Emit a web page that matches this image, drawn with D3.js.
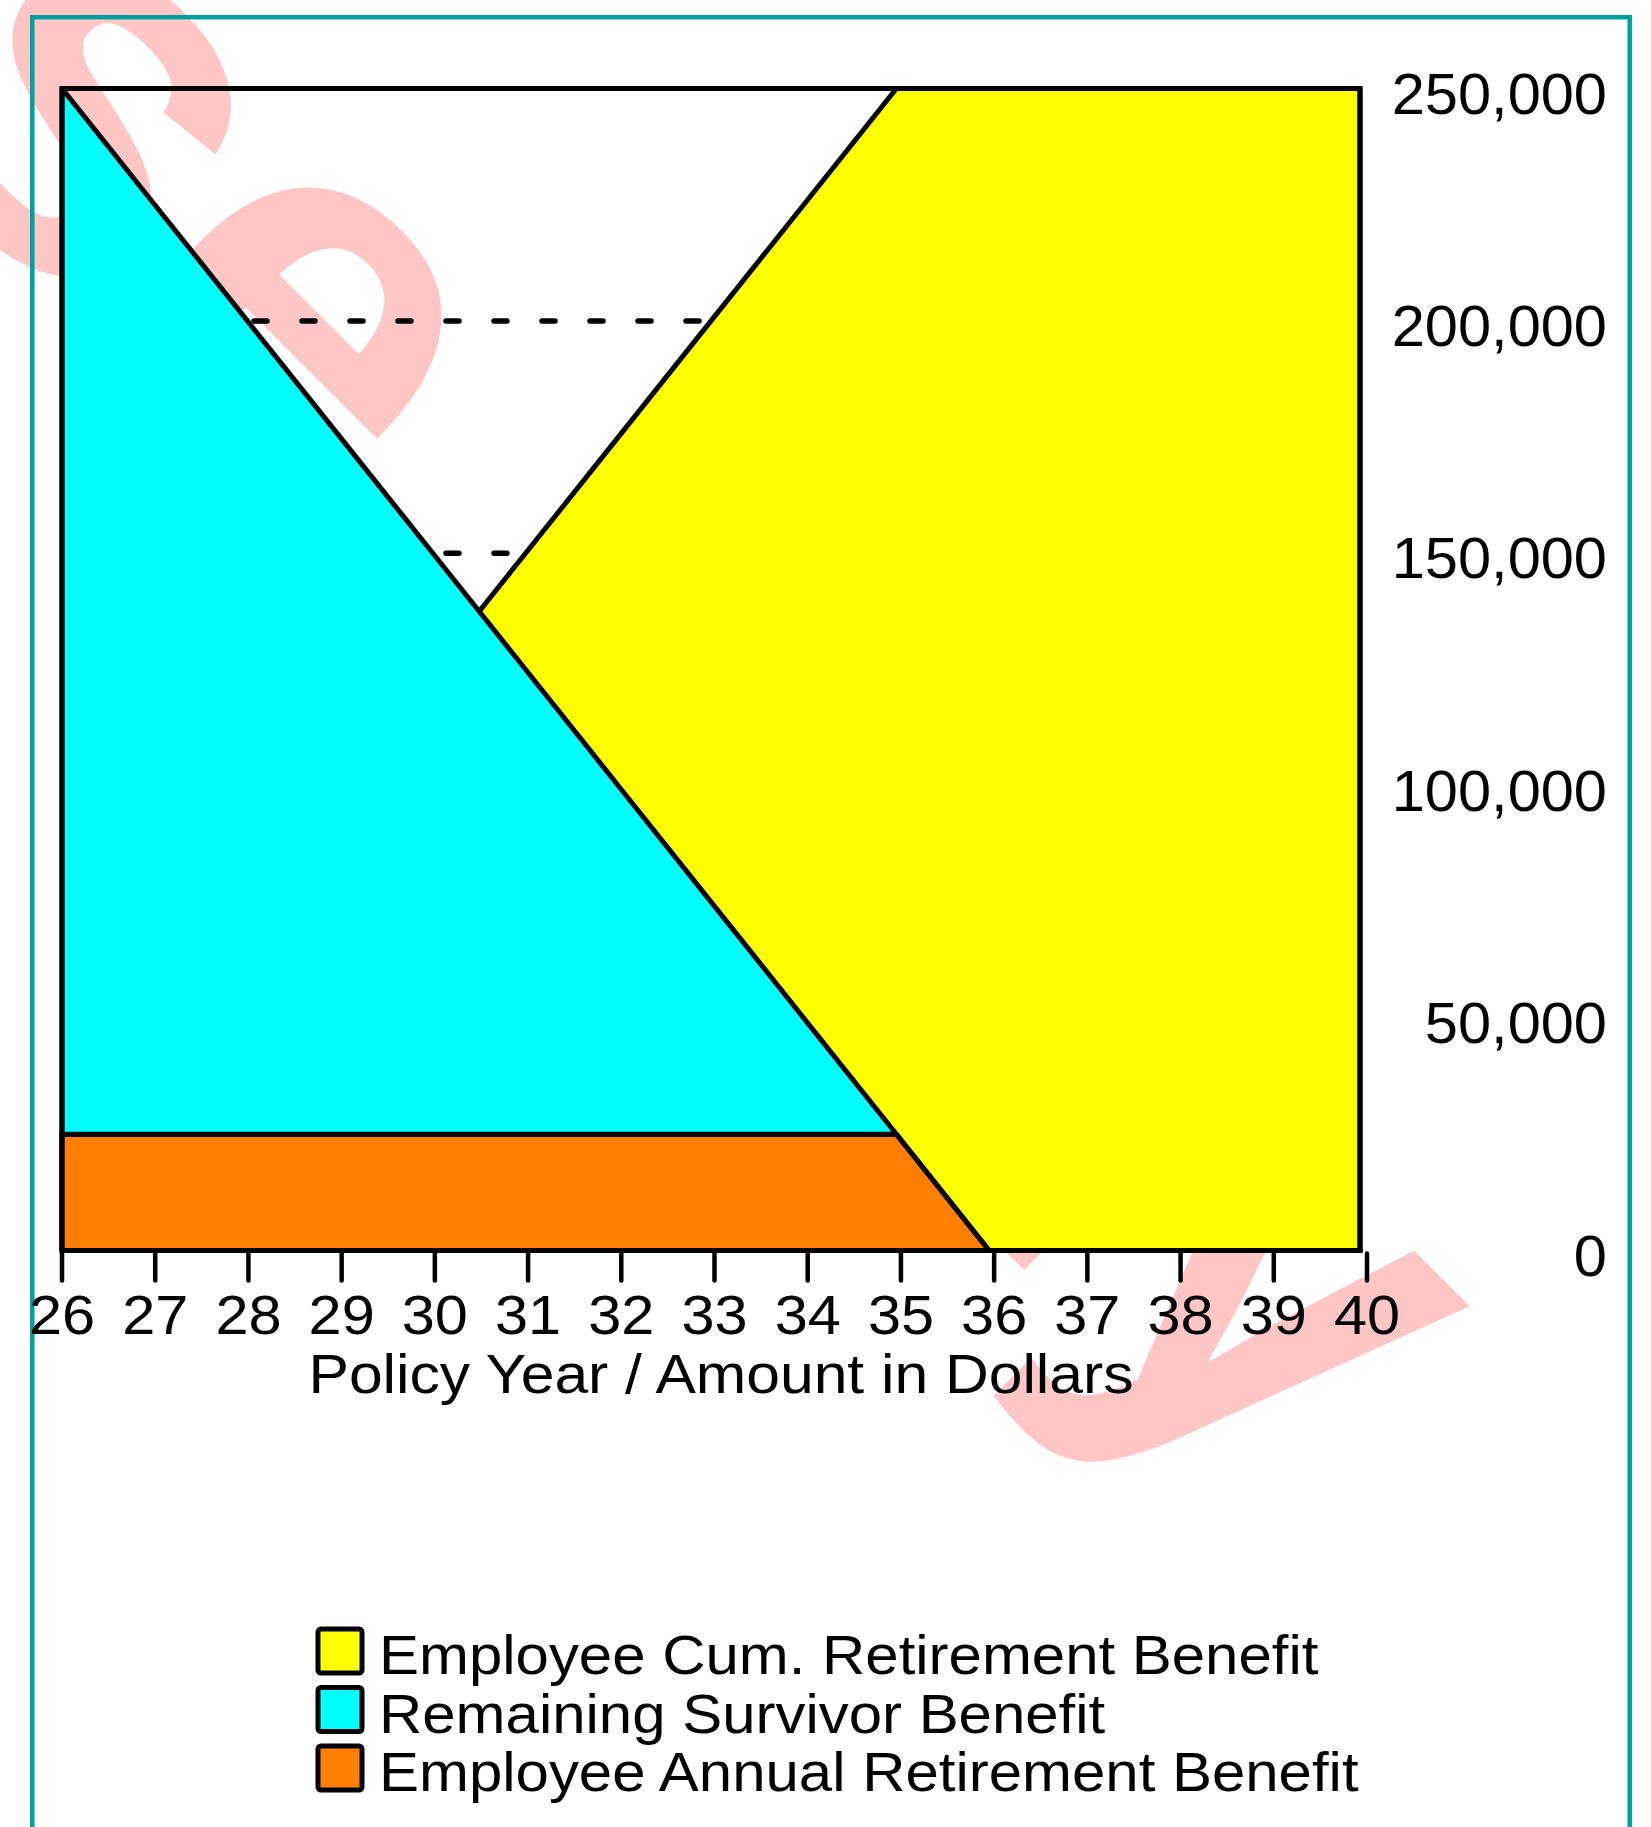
<!DOCTYPE html>
<html>
<head>
<meta charset="utf-8">
<script src="https://cdn.jsdelivr.net/npm/d3@7"></script>
<style>
  html, body { margin: 0; padding: 0; background: #ffffff; }
  svg { display: block; }
  text { font-family: "Liberation Sans", Arial, Helvetica, sans-serif; fill: #000; }
</style>
</head>
<body>
<svg id="chart" width="1651" height="1827"></svg>
<script>
// ---------- data ----------
const years = [26, 27, 28, 29, 30, 31, 32, 33, 34, 35, 36, 37, 38, 39, 40];
const cumRetirement = [25000, 50000, 75000, 100000, 125000, 150000, 175000, 200000, 225000, 250000, 250000, 250000, 250000, 250000, 250000];
const survivorBenefit = [225000, 200000, 175000, 150000, 125000, 100000, 75000, 50000, 25000, 0, 0, 0, 0, 0, 0];
const annualRetirement = [25000, 25000, 25000, 25000, 25000, 25000, 25000, 25000, 25000, 25000, 0, 0, 0, 0, 0];
const yTicks = [0, 50000, 100000, 150000, 200000, 250000];
const gridValues = [50000, 100000, 150000, 200000];
const xTickLabels = ["26","27","28","29","30","31","32","33","34","35","36","37","38","39","40"];
const xTitle = "Policy Year / Amount in Dollars";
const legendLabels = ["Employee Cum. Retirement Benefit", "Remaining Survivor Benefit", "Employee Annual Retirement Benefit"];
const watermarkText = "For Internal Use Only";

// ---------- styles ----------
const colors = { cum: "#ffff00", survivor: "#00ffff", annual: "#ff8000", teal: "#00a09e", mark: "#ffc6c6" };
const svg = d3.select("#chart");

const plot = { left: 62, right: 1360, top: 88.5, bottom: 1250.5 };
const x = d3.scaleLinear().domain([26, 40]).range([plot.left, plot.right]);
const xAxisScale = d3.scaleLinear().domain([26, 40]).range([plot.left, 1367]);
const y = d3.scaleLinear().domain([0, 250000]).range([plot.bottom, plot.top]);
const LW = 5;

function stretchedText(g, str, tx, ty, size, sx, anchor) {
  return g.append("text")
    .attr("transform", `translate(${tx},${ty}) scale(${sx},1)`)
    .attr("text-anchor", anchor)
    .style("font-size", size + "px")
    .text(str);
}

svg.append("defs").append("clipPath").attr("id", "plotClip")
  .append("rect")
  .attr("x", x(26)).attr("y", y(250000))
  .attr("width", x(40) - x(26)).attr("height", y(0) - y(250000));

// watermark (behind everything)
svg.append("text")
  .attr("transform", "translate(1267,1513) rotate(45)")
  .attr("text-anchor", "end")
  .style("font-size", "548px")
  .style("font-weight", "bold")
  .style("fill", colors.mark)
  .text(watermarkText);

// teal border
svg.append("rect")
  .attr("x", 32.3).attr("y", 17.2)
  .attr("width", 1597.4).attr("height", 1900)
  .attr("fill", "none").attr("stroke", colors.teal).attr("stroke-width", 4.5);

// dashed grid
svg.append("g").attr("clip-path", "url(#plotClip)")
  .selectAll("line").data(gridValues).join("line")
  .attr("x1", plot.left).attr("x2", plot.right)
  .attr("y1", d => y(d)).attr("y2", d => y(d))
  .attr("stroke", "#000").attr("stroke-width", 5.5)
  .attr("stroke-linecap", "round")
  .attr("stroke-dasharray", "13 35");

const rows = years.map((yr, i) => ({ yr, cum: cumRetirement[i], surv: survivorBenefit[i], ann: annualRetirement[i] }));

// yellow cumulative
svg.append("path").datum(rows)
  .attr("d", d3.area().x(d => x(d.yr)).y0(y(0)).y1(d => y(d.cum)))
  .attr("fill", colors.cum).attr("stroke", "#000").attr("stroke-width", LW).attr("stroke-linejoin", "round");

// orange annual
svg.append("path").datum(rows)
  .attr("d", d3.area().x(d => x(d.yr)).y0(y(0)).y1(d => y(d.ann)))
  .attr("fill", colors.annual).attr("stroke", "#000").attr("stroke-width", LW).attr("stroke-linejoin", "round");

// cyan survivor stacked on annual
svg.append("path").datum(rows)
  .attr("d", d3.area().x(d => x(d.yr)).y0(d => y(d.ann)).y1(d => y(d.ann + d.surv)))
  .attr("fill", colors.survivor).attr("stroke", "#000").attr("stroke-width", LW).attr("stroke-linejoin", "round");

// frame
svg.append("rect")
  .attr("x", x(26)).attr("y", y(250000))
  .attr("width", x(40) - x(26)).attr("height", y(0) - y(250000))
  .attr("fill", "none").attr("stroke", "#000").attr("stroke-width", LW);

// x ticks
const xt = svg.append("g");
xt.selectAll("line").data(years).join("line")
  .attr("x1", d => xAxisScale(d)).attr("x2", d => xAxisScale(d))
  .attr("y1", plot.bottom + 3).attr("y2", plot.bottom + 30)
  .attr("stroke", "#000").attr("stroke-width", 4.5).attr("stroke-linecap", "round");
years.forEach((yr, i) => stretchedText(xt, xTickLabels[i], xAxisScale(yr), 1334, 55, 1.08, "middle"));

// y labels
const yt = svg.append("g");
yTicks.forEach(v => stretchedText(yt, d3.format(",")(v), 1607, y(v) + 25, 57, 1.045, "end"));

// x title
stretchedText(svg, xTitle, 721, 1393, 56, 1.082, "middle");

// legend
const legendColors = [colors.cum, colors.survivor, colors.annual];
const lg = svg.append("g");
legendLabels.forEach((lab, i) => {
  const top = 1629 + i * 58.5;
  lg.append("rect").attr("x", 318).attr("y", top).attr("width", 44).attr("height", 44)
    .attr("rx", 3).attr("fill", legendColors[i]).attr("stroke", "#000").attr("stroke-width", 5);
  stretchedText(lg, lab, 379, top + 45, 55, 1.09, "start");
});
</script>
</body>
</html>
